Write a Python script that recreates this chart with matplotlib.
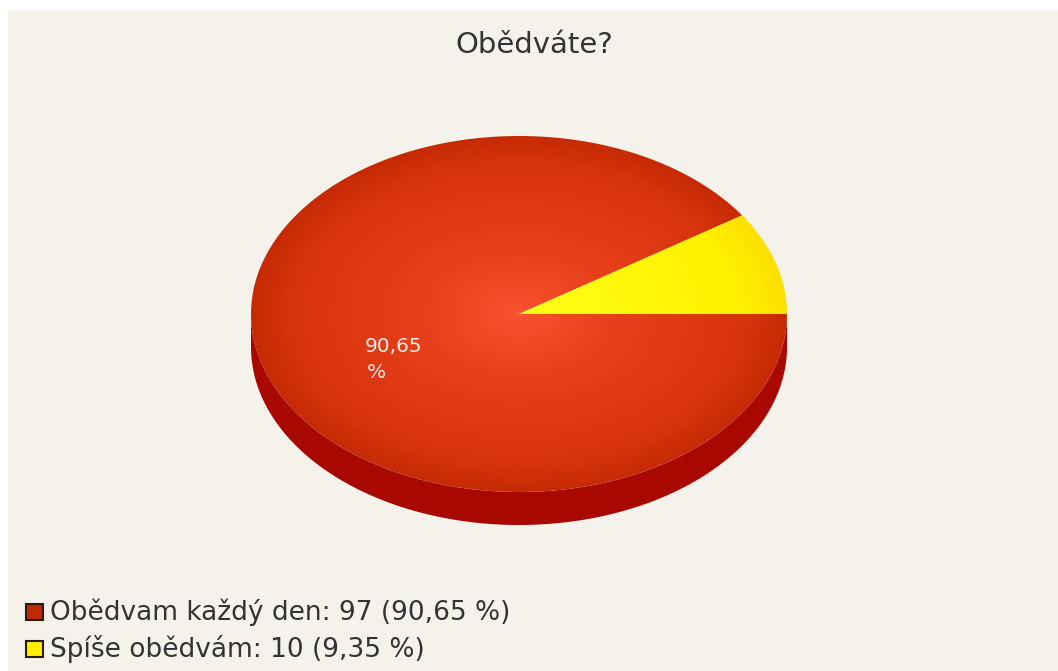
import numpy as np
import matplotlib
matplotlib.use('Agg')
import matplotlib.pyplot as plt
from matplotlib.patches import Polygon, Rectangle, PathPatch
from matplotlib.path import Path
from matplotlib.colors import LinearSegmentedColormap

labels = ['Obědvam každý den', 'Spíše obědvám']
counts = [97, 10]
percents = ['90,65', '9,35']
title = 'Obědváte?'

W, H = 1058, 671
BG = '#f5f2ec'

plt.rcParams['font.family'] = ['DejaVu Sans']

fig = plt.figure(figsize=(W / 100, H / 100), dpi=100, facecolor='white')
ax = fig.add_axes([0, 0, 1, 1])
ax.set_xlim(0, W)
ax.set_ylim(H, 0)
ax.axis('off')

# panel
ax.add_patch(Rectangle((8, 10), W - 8, H - 10, facecolor=BG, edgecolor='none', zorder=0))

cx, cy, rx, ry = 519, 314, 268, 178
depth = 33

# angle of each slice from the counts, yellow starts at 3 o'clock going counter clockwise
total = sum(counts)
yellow_end = 360 * counts[1] / total


def wedge_path(start, end):
    ang = np.radians(np.linspace(start, end, 300))
    verts = [(cx, cy)] + [(cx + rx * np.cos(a), cy - ry * np.sin(a)) for a in ang] + [(cx, cy)]
    codes = [Path.MOVETO] + [Path.LINETO] * (len(verts) - 2) + [Path.CLOSEPOLY]
    return Path(verts, codes)


# side of the pie
t = np.linspace(0, np.pi, 200)
xs = cx + rx * np.cos(t)
ys = cy + ry * np.sin(t)
side = np.column_stack([np.r_[xs, xs[::-1]], np.r_[ys, ys[::-1] + depth]])
ax.add_patch(Polygon(side, closed=True, facecolor='#a80800', edgecolor='none', zorder=1))

# radial shading for the top
yy, xx = np.mgrid[0:1:400j, 0:1:600j]
r = np.sqrt((xx - 0.5) ** 2 + (yy - 0.5) ** 2) / 0.5

red_cmap = LinearSegmentedColormap.from_list(
    'red', [(0, '#fa5230'), (0.35, '#e8401c'), (0.85, '#d6340c'), (1, '#c62a04')])
im = ax.imshow(r, cmap=red_cmap, vmin=0, vmax=1, extent=(cx - rx, cx + rx, cy + ry, cy - ry),
               zorder=2, aspect='auto', interpolation='bilinear')
clip = PathPatch(wedge_path(yellow_end, 360), transform=ax.transData, facecolor='none', edgecolor='none')
ax.add_patch(clip)
im.set_clip_path(clip)

# yellow slice
yellow_cmap = LinearSegmentedColormap.from_list(
    'yellow', [(0, '#ffff18'), (0.8, '#fff200'), (1, '#fde000')])
im2 = ax.imshow(r, cmap=yellow_cmap, vmin=0, vmax=1, extent=(cx - rx, cx + rx, cy + ry, cy - ry),
                zorder=2, aspect='auto', interpolation='bilinear')
clip2 = PathPatch(wedge_path(0, yellow_end), transform=ax.transData, facecolor='none', edgecolor='none')
ax.add_patch(clip2)
im2.set_clip_path(clip2)

ax.set_xlim(0, W)
ax.set_ylim(H, 0)

# title and label
ax.text(534, 45, title, fontsize=21, color='#333333', ha='center', va='center')
ax.text(365, 346, percents[0], fontsize=14.5, color='white', ha='left', va='center', alpha=0.9)
ax.text(367, 372, '%', fontsize=14.5, color='white', ha='left', va='center', alpha=0.9)

# legend
colors = ['#c02806', '#ffee00']
for i, y in enumerate([612, 649]):
    ax.add_patch(Rectangle((26, y - 8), 17, 16, facecolor=colors[i], edgecolor='#2a1a10', linewidth=1.5, zorder=3))
    ax.text(50, y, f'{labels[i]}: {counts[i]} ({percents[i]} %)', fontsize=19, color='#333333',
            ha='left', va='center')

fig.savefig('out.png', dpi=100, facecolor='white')
